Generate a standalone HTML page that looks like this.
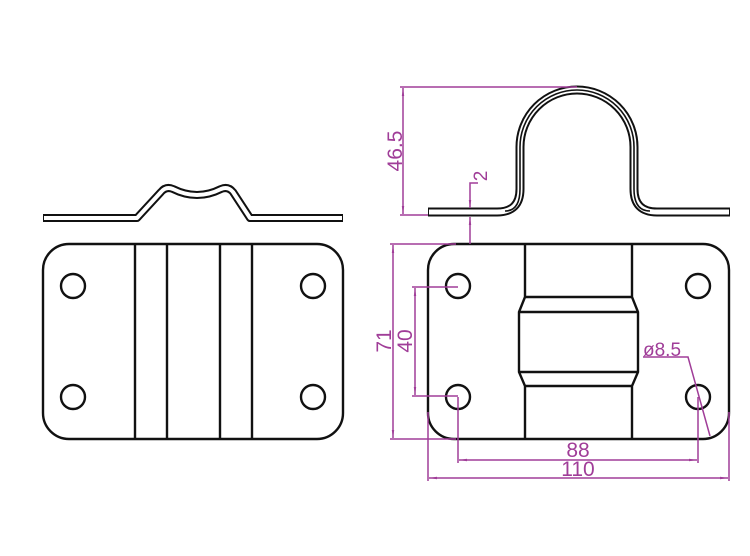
<!DOCTYPE html>
<html><head><meta charset="utf-8"><style>
html,body{margin:0;padding:0;background:#fff;}
svg{display:block;}
text{font-family:"Liberation Sans",sans-serif;fill:#a03d98;}
</style></head><body>
<svg width="750" height="556" viewBox="0 0 750 556" xmlns="http://www.w3.org/2000/svg">
<defs>
<marker id="a" viewBox="0 0 10 10" refX="10" refY="5" markerWidth="8" markerHeight="8" orient="auto-start-reverse" markerUnits="userSpaceOnUse"><path d="M0,3.5 L10,5 L0,6.5 Z" fill="#a03d98"/></marker>
</defs>
<!-- left profile -->
<g fill="none" stroke-linejoin="round">
<path d="M43 218 H137 L161 192 Q166 186 173 189 Q197 201 221 189 Q228 186 233 192 L250 218 H343" stroke="#111" stroke-width="8"/>
<path d="M44 218 H137 L161 192 Q166 186 173 189 Q197 201 221 189 Q228 186 233 192 L250 218 H342" stroke="#fff" stroke-width="4"/>
</g>
<!-- left plate -->
<g fill="none" stroke="#111" stroke-width="2.4">
<rect x="43" y="244" width="300" height="195" rx="26"/>
<line x1="135" y1="244" x2="135" y2="439"/><line x1="167" y1="244" x2="167" y2="439"/>
<line x1="220" y1="244" x2="220" y2="439"/><line x1="252" y1="244" x2="252" y2="439"/>
<circle cx="73" cy="286" r="12"/><circle cx="313" cy="286" r="12"/>
<circle cx="73" cy="397" r="12"/><circle cx="313" cy="397" r="12"/>
</g>
<!-- right profile -->
<g fill="none" stroke-linejoin="round">
<path d="M428 212 H497 Q520 212 520 189 V147 A57 57 0 0 1 634 147 V189 Q634 212 657 212 H730" stroke="#111" stroke-width="9"/>
<path d="M429 212 H497 Q520 212 520 189 V147 A57 57 0 0 1 634 147 V189 Q634 212 657 212 H729" stroke="#fff" stroke-width="5"/>
<path d="M505 211 Q520 211 520 189 V147 A57 57 0 0 1 634 147 V189 Q634 211 650 211" stroke="#111" stroke-width="1.6"/>
</g>
<!-- right plate -->
<g fill="none" stroke="#111" stroke-width="2.4">
<rect x="428" y="244" width="301" height="195" rx="26"/>
<path d="M525 244 V297 L519 312 V372 L525 386 V439"/>
<path d="M632 244 V297 L638 312 V372 L632 386 V439"/>
<line x1="525" y1="297" x2="632" y2="297"/><line x1="519" y1="312" x2="638" y2="312"/>
<line x1="519" y1="372" x2="638" y2="372"/><line x1="525" y1="386" x2="632" y2="386"/>
<circle cx="458" cy="286" r="12"/><circle cx="698" cy="286" r="12"/>
<circle cx="458" cy="397" r="12"/><circle cx="698" cy="397" r="12"/>
</g>
<!-- dimensions -->
<g fill="none" stroke="#a03d98" stroke-width="1.5">
<line x1="400" y1="87" x2="577" y2="87"/><line x1="400" y1="215" x2="428" y2="215"/>
<line x1="403" y1="88" x2="403" y2="214" marker-start="url(#a)" marker-end="url(#a)"/>
<path d="M478 183 H470 V208" marker-end="url(#a)"/>
<line x1="470" y1="244" x2="470" y2="217" marker-end="url(#a)"/>
<line x1="390" y1="244" x2="456" y2="244"/><line x1="390" y1="439" x2="456" y2="439"/>
<line x1="393" y1="245" x2="393" y2="438" marker-start="url(#a)" marker-end="url(#a)"/>
<line x1="412" y1="287" x2="458" y2="287"/><line x1="412" y1="396" x2="458" y2="396"/>
<line x1="415" y1="288" x2="415" y2="395" marker-start="url(#a)" marker-end="url(#a)"/>
<line x1="458" y1="397" x2="458" y2="463"/><line x1="698" y1="397" x2="698" y2="463"/>
<line x1="459" y1="460" x2="697" y2="460" marker-start="url(#a)" marker-end="url(#a)"/>
<line x1="428" y1="412" x2="428" y2="481"/><line x1="729" y1="412" x2="729" y2="481"/>
<line x1="429" y1="478" x2="728" y2="478" marker-start="url(#a)" marker-end="url(#a)"/>
<path d="M643 357 H688 L710 436"/>
</g>
<text x="578" y="457" font-size="21" text-anchor="middle">88</text>
<text x="578" y="476" font-size="21" text-anchor="middle">110</text>
<text x="643" y="356" font-size="19">ø8.5</text>
<text transform="translate(402,151) rotate(-90)" font-size="21" text-anchor="middle">46.5</text>
<text transform="translate(391,341) rotate(-90)" font-size="21" text-anchor="middle">71</text>
<text transform="translate(412,341) rotate(-90)" font-size="21" text-anchor="middle">40</text>
<text transform="translate(487,176) rotate(-90)" font-size="19" text-anchor="middle">2</text>
</svg>
</body></html>
